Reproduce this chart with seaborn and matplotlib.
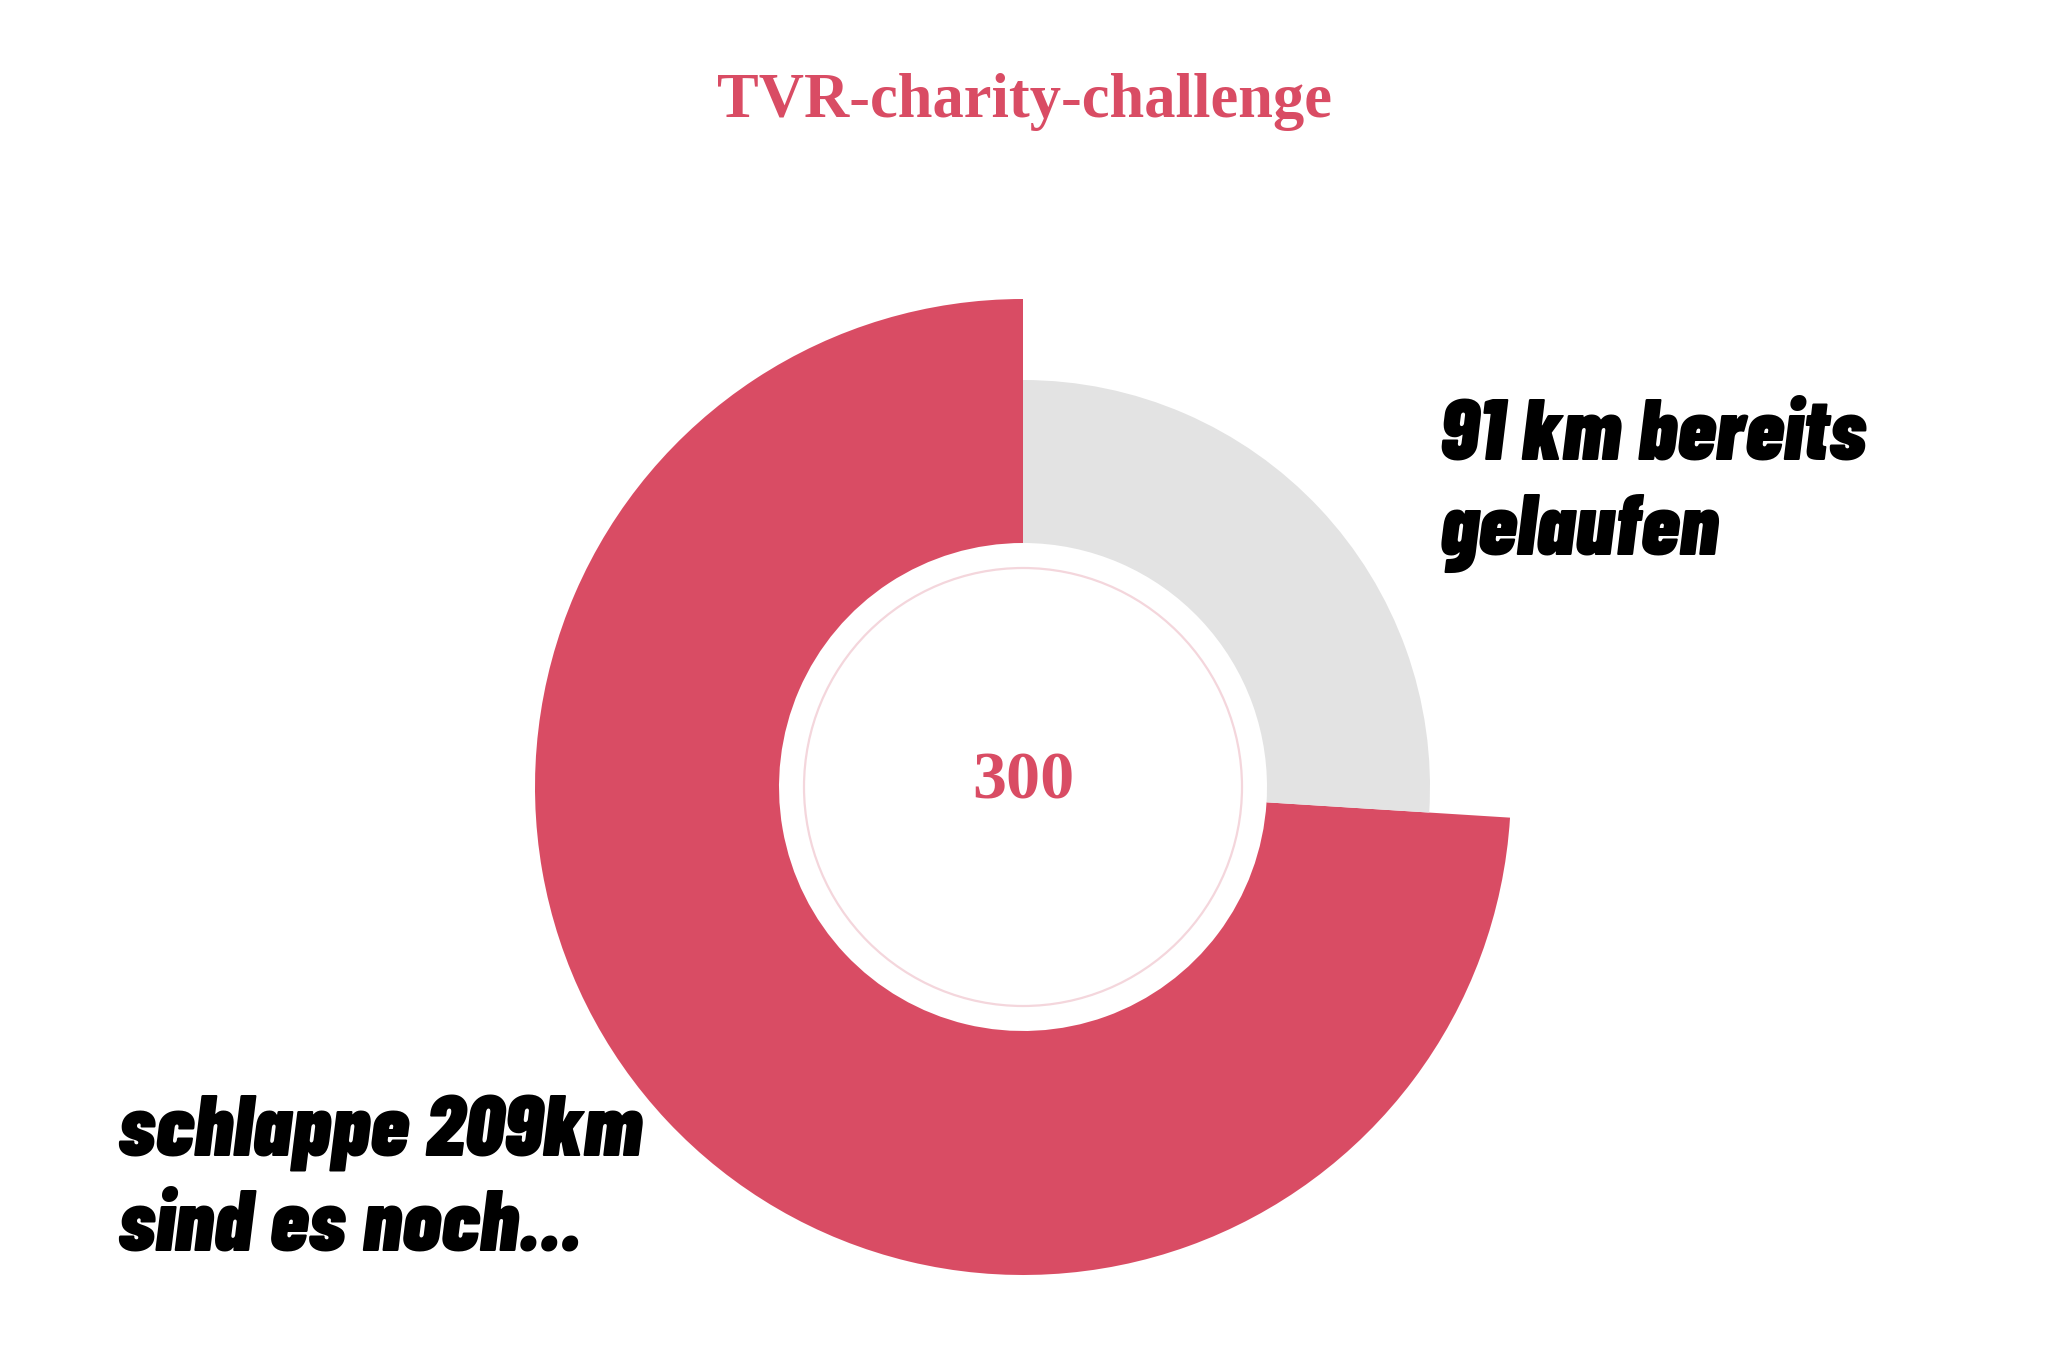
import seaborn as sns
import matplotlib.pyplot as plt
from matplotlib.patches import Circle

# values
title = "TVR-charity-challenge"
goal_km = 300
label_done = "91 km bereits\ngelaufen"
label_left = "schlappe 209km\nsind es noch..."
wedge_values = [259, 91]
wedge_colors = ["#D94C64", "#E3E3E3"]

sns.set_theme(style="white")
plt.rcParams["font.family"] = ["Liberation Serif", "DejaVu Serif"]

W, H = 2048, 1364
fig = plt.figure(figsize=(W / 100, H / 100), dpi=100)
ax = fig.add_axes([0, 0, 1, 1])

cx, cy = 1023, H - 787
r_hole = 244
wedges, _ = ax.pie(wedge_values, colors=wedge_colors, startangle=90, counterclock=True,
                   center=(cx, cy), radius=488,
                   wedgeprops=dict(width=488 - r_hole, linewidth=0))
# grey slice is drawn with a smaller outer radius
wedges[1].set_radius(407)
wedges[1].set_width(407 - r_hole)

ax.add_patch(Circle((cx, cy), 219, fill=False, ec="#F4D6DC", lw=1.6))

ax.set_xlim(0, W)
ax.set_ylim(0, H)
ax.set_aspect("equal")
ax.axis("off")

ax.text(cx + 2, H - 102, title, ha="center", va="center", fontsize=45,
        fontweight="bold", color=wedge_colors[0])
ax.text(cx, H - 782, str(goal_km), ha="center", va="center", fontsize=49,
        fontweight="bold", color=wedge_colors[0])

anno = dict(family=["Barlow Condensed", "Fira Sans Extra Condensed", "IBM Plex Sans Condensed", "DejaVu Sans"],
            fontsize=63, fontweight=900, fontstyle="italic", color="black")
ax.text(1440, H - 398, label_done, ha="left", va="top", linespacing=1.32, **anno)
ax.text(118, H - 1095, label_left, ha="left", va="top", linespacing=1.28, **anno)

fig.savefig("out.png", dpi=100, facecolor="white")
